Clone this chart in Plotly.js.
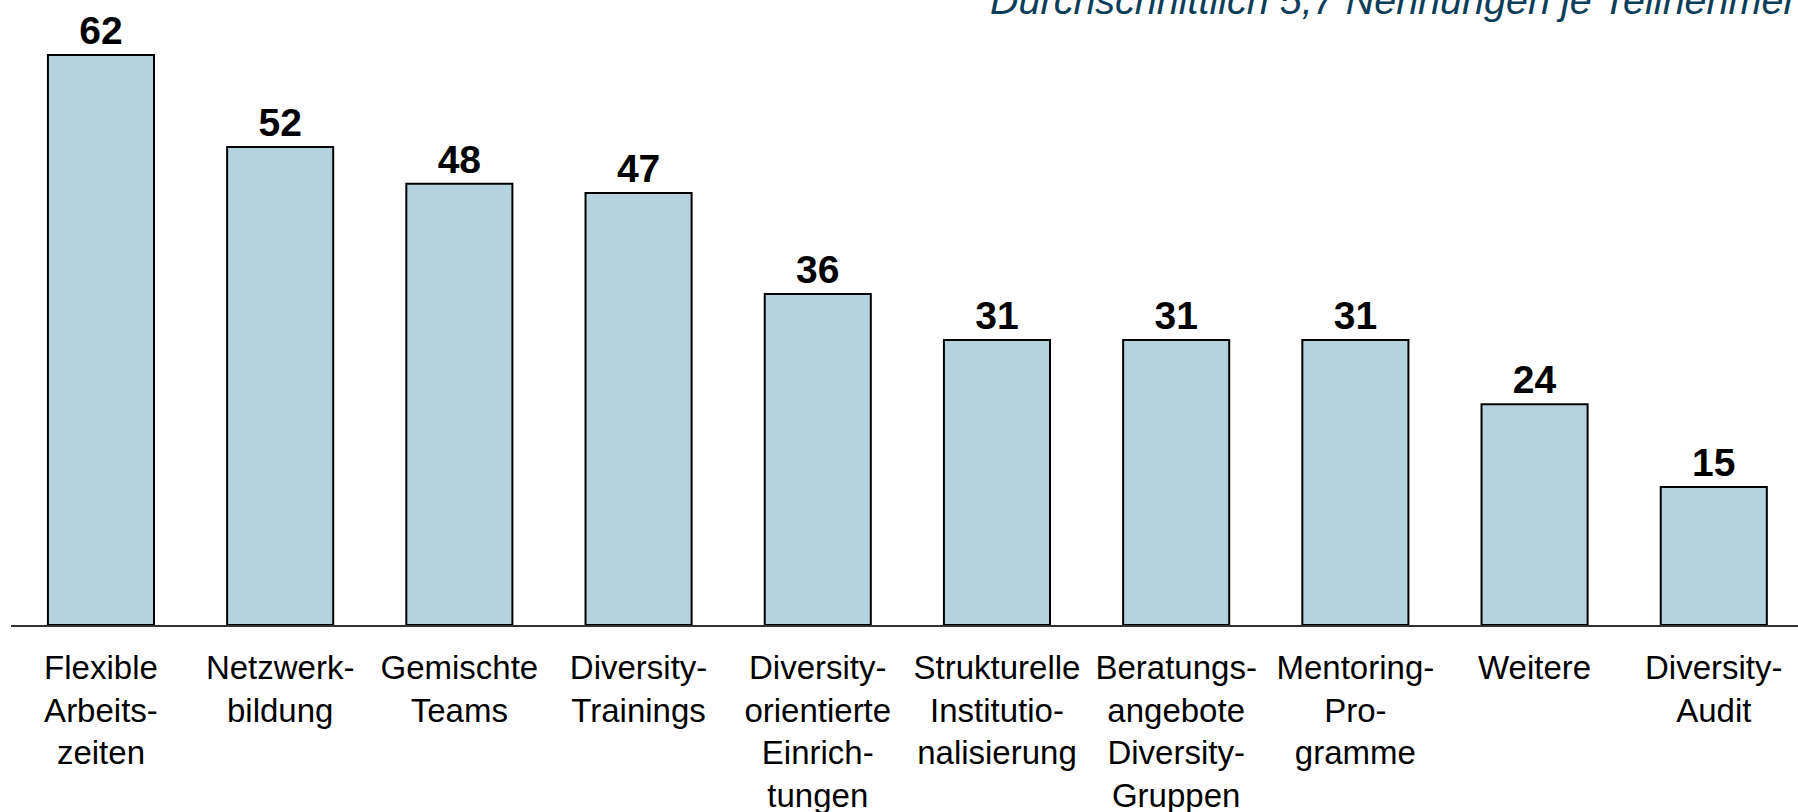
<!DOCTYPE html>
<html>
<head>
<meta charset="utf-8">
<script src="https://cdn.plot.ly/plotly-3.0.1.min.js"></script>
<style>
  html, body { margin: 0; padding: 0; background: #ffffff; }
  #chart { width: 1798px; height: 812px; }
</style>
</head>
<body>
<div id="chart"></div>
<script>
const categories = [
  "Flexible<br>Arbeits-<br>zeiten",
  "Netzwerk-<br>bildung",
  "Gemischte<br>Teams",
  "Diversity-<br>Trainings",
  "Diversity-<br>orientierte<br>Einrich-<br>tungen",
  "Strukturelle<br>Institutio-<br>nalisierung",
  "Beratungs-<br>angebote<br>Diversity-<br>Gruppen",
  "Mentoring-<br>Pro-<br>gramme",
  "Weitere",
  "Diversity-<br>Audit"
];
const values = [62, 52, 48, 47, 36, 31, 31, 31, 24, 15];
const subtitle = "Durchschnittlich 5,7 Nennungen je Teilnehmer";

const FONT = "'Liberation Sans', Arial, Helvetica, sans-serif";

const trace = {
  type: "bar",
  x: categories,
  y: values,
  text: values.map(String),
  textposition: "outside",
  cliponaxis: false,
  textfont: { family: FONT, size: 39, color: "#000000", weight: "bold" },
  marker: { color: "#b4d3de", line: { color: "#000000", width: 2 } },
  hoverinfo: "none"
};

const layout = {
  width: 1798,
  height: 812,
  margin: { l: 11, r: 0, t: 10, b: 187 },
  paper_bgcolor: "#ffffff",
  plot_bgcolor: "#ffffff",
  bargap: 0.408,
  showlegend: false,
  font: { family: FONT, color: "#000000" },
  xaxis: {
    type: "category",
    range: [-0.502, 9.47],
    showline: true,
    linecolor: "#333333",
    linewidth: 2,
    ticks: "",
    showgrid: false,
    zeroline: false,
    tickangle: 0,
    tickfont: { family: FONT, size: 33, color: "#000000" },
    ticklabelstandoff: 12
  },
  yaxis: {
    range: [0, 66.9],
    visible: false,
    showgrid: false,
    zeroline: false
  },
  annotations: [{
    text: subtitle,
    xref: "paper", yref: "paper",
    x: 0.547, y: 0.977,
    xanchor: "left", yanchor: "bottom",
    showarrow: false,
    font: { family: FONT, size: 39.5, color: "#0b3d5b", style: "italic" }
  }]
};

Plotly.newPlot("chart", [trace], layout, { displayModeBar: false, staticPlot: true });
</script>
</body>
</html>
